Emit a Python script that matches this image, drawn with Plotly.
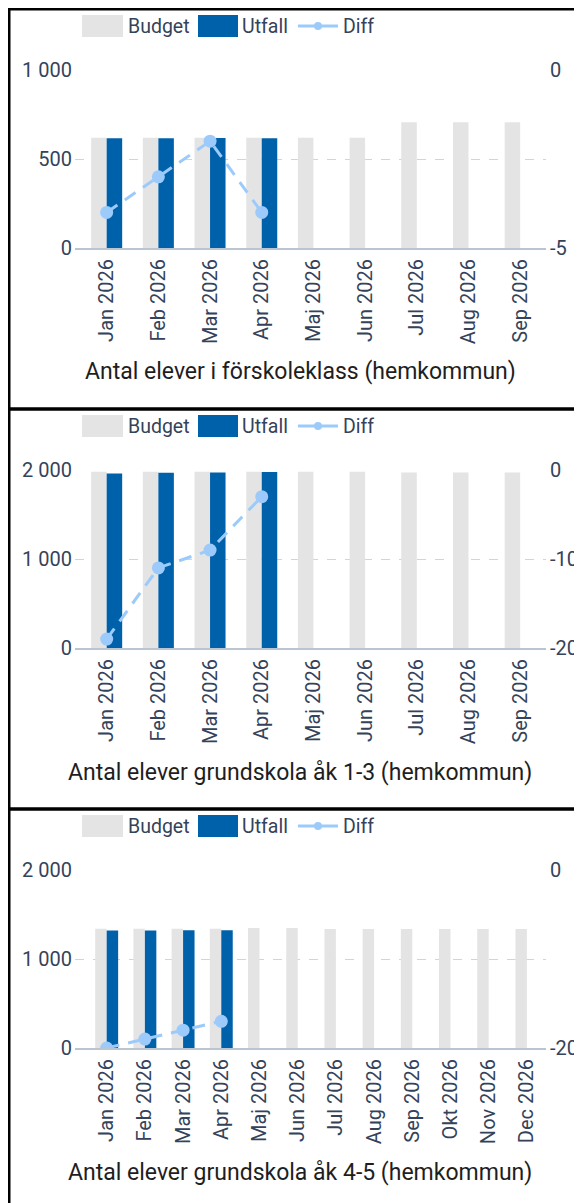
import plotly.graph_objects as go

# ---------------- data ----------------
months9 = ["Jan 2026", "Feb 2026", "Mar 2026", "Apr 2026", "Maj 2026",
           "Jun 2026", "Jul 2026", "Aug 2026", "Sep 2026"]
months12 = ["Jan 2026", "Feb 2026", "Mar 2026", "Apr 2026", "Maj 2026",
            "Jun 2026", "Jul 2026", "Aug 2026", "Sep 2026", "Okt 2026",
            "Nov 2026", "Dec 2026"]

titles = ["Antal elever i förskoleklass (hemkommun)",
          "Antal elever grundskola åk 1-3 (hemkommun)",
          "Antal elever grundskola åk 4-5 (hemkommun)"]

budget_fk = [620, 620, 620, 620, 620, 620, 706, 706, 706]
utfall_fk = [616, 617, 618, 616]
diff_fk = [-4, -3, -2, -4]

budget_13 = [1980, 1980, 1980, 1980, 1980, 1980, 1972, 1972, 1972]
utfall_13 = [1961, 1969, 1971, 1977]
diff_13 = [-19, -11, -9, -3]

budget_45 = [1340, 1340, 1340, 1340, 1348, 1348, 1336, 1336, 1336, 1336, 1336, 1336]
utfall_45 = [1320, 1321, 1322, 1323]
diff_45 = [-20, -19, -18, -17]

left_ticks_1 = [0, 500, 1000]
left_text_1 = ["0", "500", "1 000"]
left_ticks_2 = [0, 1000, 2000]
left_text_2 = ["0", "1 000", "2 000"]
right_ticks_1 = [-5, 0]
right_text_1 = ["-5", "0"]
right_ticks_2 = [-20, -10, 0]
right_text_2 = ["-20", "-10", "0"]
right_ticks_3 = [-20, 0]
right_text_3 = ["-20", "0"]

legend_names = ["Budget", "Utfall", "Diff"]

# ---------------- style ----------------
OFF = 8                      # page body margin
W, H = 574, 1195
FONT = "Roboto"
TXT = "#34435a"
C_BUDGET = "#e4e4e4"
C_UTFALL = "#0061ab"
C_DIFF = "#9ccbfb"
GRID = "#cdd6e0"
AXLINE = "#b9c5d1"
TICK_SIZE = 20

def fx(px):
    return (px - OFF) / W

def fy(py):
    return 1 - (py - OFF) / H

panels = [
    dict(months=months9, budget=budget_fk, utfall=utfall_fk, diff=diff_fk,
         lrange=[0, 1000], lt=left_ticks_1, ltx=left_text_1,
         rrange=[-5, 0], rt=right_ticks_1, rtx=right_text_1),
    dict(months=months9, budget=budget_13, utfall=utfall_13, diff=diff_13,
         lrange=[0, 2000], lt=left_ticks_2, ltx=left_text_2,
         rrange=[-20, 0], rt=right_ticks_2, rtx=right_text_2),
    dict(months=months12, budget=budget_45, utfall=utfall_45, diff=diff_45,
         lrange=[0, 2000], lt=left_ticks_2, ltx=left_text_2,
         rrange=[-20, 0], rt=right_ticks_3, rtx=right_text_3),
]

fig = go.Figure()
layout = {}
shapes = []
annotations = []

for i, p in enumerate(panels):
    oy = 400 * i
    xk = "x" if i == 0 else f"x{i+1}"
    yl = "y" if i == 0 else f"y{2*i+1}"
    yr = f"y{2*i+2}"
    n = len(p["utfall"])

    fig.add_trace(go.Bar(x=p["months"], y=p["budget"], name=legend_names[0],
                         marker=dict(color=C_BUDGET, line=dict(width=0)),
                         xaxis=xk, yaxis=yl, showlegend=False, hoverinfo="skip"))
    fig.add_trace(go.Bar(x=p["months"][:n], y=p["utfall"], name=legend_names[1],
                         marker=dict(color=C_UTFALL, line=dict(width=0)),
                         xaxis=xk, yaxis=yl, showlegend=False, hoverinfo="skip"))
    fig.add_trace(go.Scatter(x=p["months"][:n], y=p["diff"], name=legend_names[2],
                             mode="lines+markers",
                             line=dict(color=C_DIFF, width=3, dash="13px,9px"),
                             marker=dict(color=C_DIFF, size=13),
                             xaxis=xk, yaxis=yr, showlegend=False, hoverinfo="skip"))

    xname = "xaxis" if i == 0 else f"xaxis{i+1}"
    ylname = "yaxis" if i == 0 else f"yaxis{2*i+1}"
    yrname = f"yaxis{2*i+2}"
    layout[xname] = dict(
        domain=[fx(75), fx(546)], anchor=yl, type="category",
        categoryorder="array", categoryarray=p["months"],
        tickangle=-90, showline=True, linecolor=AXLINE, linewidth=2,
        showgrid=False, ticks="", zeroline=False, automargin=False,
        ticklabelstandoff=1,
        tickfont=dict(family=FONT, size=TICK_SIZE, color=TXT), fixedrange=True)
    layout[ylname] = dict(
        domain=[fy(248 + oy), fy(70 + oy)], anchor=xk, range=p["lrange"],
        tickvals=p["lt"], ticktext=p["ltx"], showgrid=True, gridcolor=GRID,
        griddash="dash", gridwidth=1, zeroline=False, showline=False, ticks="",
        automargin=False, ticklabelstandoff=2,
        tickfont=dict(family=FONT, size=TICK_SIZE, color=TXT))
    layout[yrname] = dict(
        overlaying=yl, side="right", anchor=xk, range=p["rrange"],
        tickvals=p["rt"], ticktext=p["rtx"], showgrid=False, zeroline=False,
        showline=False, ticks="", automargin=False, ticklabelstandoff=3,
        tickfont=dict(family=FONT, size=TICK_SIZE, color=TXT))

    # border of each chart box
    shapes.append(dict(type="rect", xref="paper", yref="paper",
                       x0=fx(9), x1=fx(640), y0=fy(409 + oy), y1=fy(9 + oy),
                       line=dict(color="black", width=3), fillcolor="rgba(0,0,0,0)",
                       layer="above"))
    # custom legend
    ly0, ly1, lyc = 15 + oy, 37 + oy, 26 + oy
    shapes.append(dict(type="rect", xref="paper", yref="paper",
                       x0=fx(82), x1=fx(123), y0=fy(ly1), y1=fy(ly0),
                       fillcolor=C_BUDGET, line=dict(width=0)))
    shapes.append(dict(type="rect", xref="paper", yref="paper",
                       x0=fx(198), x1=fx(238), y0=fy(ly1), y1=fy(ly0),
                       fillcolor=C_UTFALL, line=dict(width=0)))
    shapes.append(dict(type="line", xref="paper", yref="paper",
                       x0=fx(298), x1=fx(338), y0=fy(lyc), y1=fy(lyc),
                       line=dict(color=C_DIFF, width=3)))
    shapes.append(dict(type="circle", xref="paper", yref="paper",
                       x0=fx(314), x1=fx(322), y0=fy(lyc + 4), y1=fy(lyc - 4),
                       fillcolor=C_DIFF, line=dict(width=0)))
    for txt, xp in zip(legend_names, [126, 240, 341]):
        annotations.append(dict(text=txt, xref="paper", yref="paper",
                                x=fx(xp), y=fy(lyc), xanchor="left", yanchor="middle",
                                showarrow=False,
                                font=dict(family=FONT, size=19.5, color=TXT)))
    annotations.append(dict(text=titles[i], xref="paper", yref="paper",
                            x=fx(300), y=fy(372 + oy), xanchor="center", yanchor="middle",
                            showarrow=False,
                            font=dict(family=FONT, size=23, color="#1e1e1e")))

fig.update_layout(**layout)
fig.update_layout(
    width=W, height=H, margin=dict(l=0, r=0, t=0, b=0),
    paper_bgcolor="white", plot_bgcolor="white",
    barmode="group", bargap=0.4, bargroupgap=0,
    showlegend=False, shapes=shapes, annotations=annotations,
    font=dict(family=FONT, color=TXT),
)

fig.write_html("out.html", config={"displayModeBar": False})
